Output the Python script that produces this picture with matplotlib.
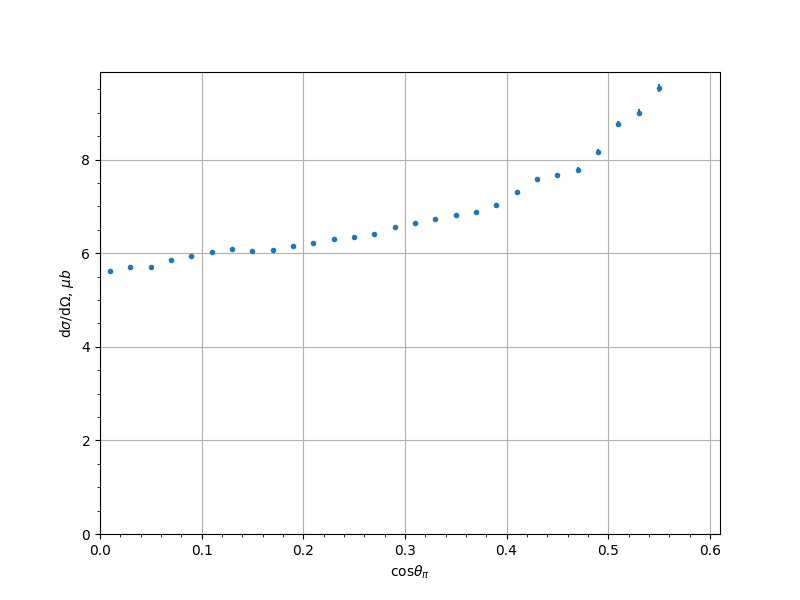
import numpy as np
import matplotlib
matplotlib.use('Agg')
import matplotlib.pyplot as plt

# центры бинов по cos(theta_pi)
cos_th = [0.01, 0.03, 0.05, 0.07, 0.09, 0.11, 0.13, 0.15, 0.17, 0.19,
          0.21, 0.23, 0.25, 0.27, 0.29, 0.31, 0.33, 0.35, 0.37, 0.39,
          0.41, 0.43, 0.45, 0.47, 0.49, 0.51, 0.53, 0.55]
# сечение, мкб
xsec = [5.62, 5.70, 5.70, 5.85, 5.94, 6.02, 6.09, 6.04, 6.06, 6.15,
        6.21, 6.30, 6.34, 6.41, 6.56, 6.64, 6.73, 6.81, 6.88, 7.03,
        7.30, 7.58, 7.67, 7.78, 8.16, 8.76, 9.00, 9.53]
xsec_err = [0.03, 0.03, 0.03, 0.03, 0.03, 0.03, 0.03, 0.03, 0.03, 0.03,
            0.03, 0.03, 0.03, 0.03, 0.03, 0.03, 0.03, 0.03, 0.03, 0.04,
            0.05, 0.05, 0.05, 0.06, 0.06, 0.07, 0.07, 0.08]

fig, ax = plt.subplots(figsize=(8, 6), dpi=100)
ax.errorbar(cos_th, xsec, yerr=xsec_err, fmt='.')
ax.set_xlim(0, 0.61)
ax.set_ylim(0, 9.87)
ax.minorticks_on()
ax.grid(which='major')
ax.set_xlabel(r'cos$\theta_\pi$')
ax.set_ylabel(r'd$\sigma$/d$\Omega$, $\mu b$')
fig.savefig('out.png')
